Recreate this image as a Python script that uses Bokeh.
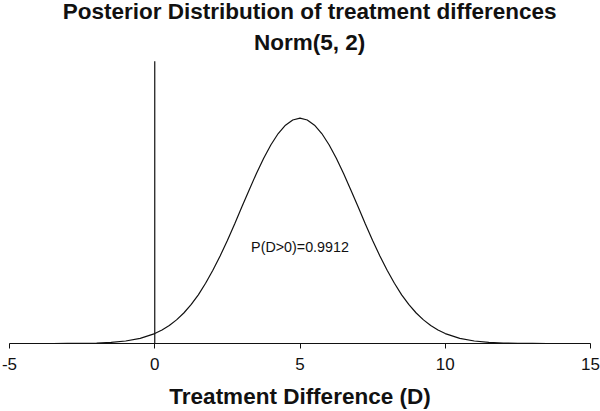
from bokeh.plotting import figure
from bokeh.models import Range1d, FixedTicker, Label
from bokeh.embed import file_html
from bokeh.resources import INLINE

# Data: posterior density of treatment difference D
d_values = [-5, -4.5, -4, -3.5, -3, -2.5, -2, -1.5, -1, -0.5,
            0, 0.25, 0.5, 0.75, 1, 1.25, 1.5, 1.75, 2, 2.25, 2.5, 2.75,
            3, 3.25, 3.5, 3.75, 4, 4.25, 4.5, 4.75, 5, 5.25, 5.5, 5.75,
            6, 6.25, 6.5, 6.75, 7, 7.25, 7.5, 7.75, 8, 8.25, 8.5, 8.75,
            9, 9.25, 9.5, 9.75, 10, 10.5, 11, 11.5, 12, 12.5, 13, 13.5,
            14, 14.5, 15]
density = [0.0, 0.0, 0.0, 0.0, 0.0001, 0.0002, 0.0004, 0.0010, 0.0022, 0.0046,
           0.0088, 0.0119, 0.0159, 0.0209, 0.0270, 0.0344, 0.0431, 0.0533, 0.0648, 0.0775, 0.0913, 0.1059,
           0.1210, 0.1360, 0.1506, 0.1641, 0.1760, 0.1859, 0.1933, 0.1979, 0.1995, 0.1979, 0.1933, 0.1859,
           0.1760, 0.1641, 0.1506, 0.1360, 0.1210, 0.1059, 0.0913, 0.0775, 0.0648, 0.0533, 0.0431, 0.0344,
           0.0270, 0.0209, 0.0159, 0.0119, 0.0088, 0.0046, 0.0022, 0.0010, 0.0004, 0.0002, 0.0001, 0.0,
           0.0, 0.0, 0.0]
tick_values = [-5, 0, 5, 10, 15]
tick_labels = ["-5", "0", "5", "10", "15"]
reference_line_x = [0, 0]
reference_line_y = [0, 0.25]
title_lines = ["Posterior Distribution of treatment differences", "Norm(5, 2)"]
x_label = "Treatment Difference (D)"
prob_text = "P(D>0)=0.9912"

FONT = "Liberation Sans"
INK = "#111111"

p = figure(width=600, height=411, output_backend="svg", toolbar_location=None,
           x_range=Range1d(-5, 15), y_range=Range1d(0, 0.3037),
           y_axis_location=None,
           min_border_left=9, min_border_right=10, min_border_top=0, min_border_bottom=0)
p.outline_line_color = None
p.xgrid.visible = False
p.ygrid.visible = False
p.background_fill_color = "white"
p.border_fill_color = "white"

p.line(d_values, density, line_color=INK, line_width=1.2)
p.line(reference_line_x, reference_line_y, line_color=INK, line_width=1.2)

ax = p.xaxis[0]
ax.ticker = FixedTicker(ticks=tick_values)
ax.major_label_overrides = {v: l for v, l in zip(tick_values, tick_labels)}
ax.minor_tick_line_color = None
ax.major_tick_in = 0
ax.major_tick_out = 5
ax.axis_line_color = INK
ax.major_tick_line_color = INK
ax.major_label_text_font = FONT
ax.major_label_text_font_size = "17px"
ax.major_label_text_color = INK
ax.major_label_standoff = 9
ax.axis_label = x_label
ax.axis_label_text_font = FONT
ax.axis_label_text_font_size = "22.5px"
ax.axis_label_text_font_style = "bold"
ax.axis_label_text_color = INK
ax.axis_label_standoff = 11

p.add_layout(Label(x=5.33, y=0.2941, text=title_lines[0], text_align="center",
                   text_baseline="alphabetic", text_font=FONT, text_font_size="22.5px",
                   text_font_style="bold", text_color=INK))
p.add_layout(Label(x=5.33, y=0.2664, text=title_lines[1], text_align="center",
                   text_baseline="alphabetic", text_font=FONT, text_font_size="22.5px",
                   text_font_style="bold", text_color=INK))
p.add_layout(Label(x=5.0, y=0.0851, text=prob_text, text_align="center",
                   text_baseline="middle", text_font=FONT, text_font_size="14.3px",
                   text_color=INK))

open("out.html", "w").write(file_html(p, INLINE))
